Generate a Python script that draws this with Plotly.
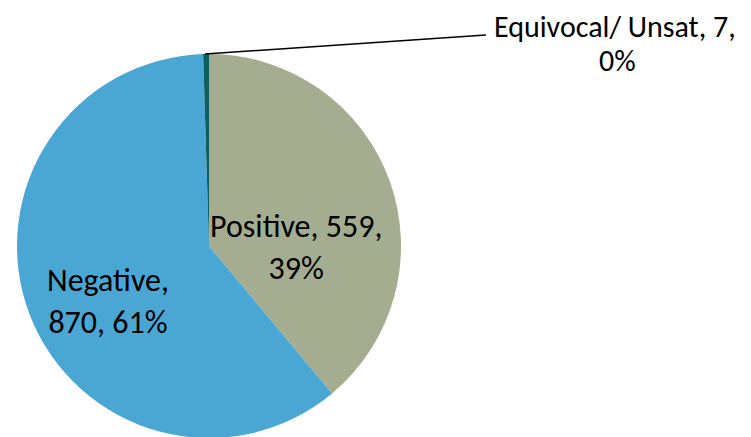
import plotly.graph_objects as go

labels = ["Positive", "Negative", "Equivocal/ Unsat"]
values = [559, 870, 7]
colors = ["#A4AD8F", "#4AA6D3", "#0E5F5F"]

W, H = 751, 437
total = sum(values)
pcts = [round(v / total * 100) for v in values]

fig = go.Figure()
fig.add_trace(go.Pie(
    labels=labels, values=values, sort=False, direction="clockwise", rotation=0,
    marker=dict(colors=colors, line=dict(width=0)),
    textinfo="none", hoverinfo="label+value+percent", showlegend=False,
    domain=dict(x=[9 / W, 393 / W], y=[7 / H, 391 / H]),
))

def px(x, y):
    return x / W, 1 - y / H

ann = [
    (f"{labels[0]}, {values[0]},<br>{pcts[0]}%", 288, 239, 32),
    (f"{labels[1]},<br>{values[1]}, {pcts[1]}%", 100, 293, 32),
    (f"{labels[2]}, {values[2]},", 607, 19, 30),
    (f"{pcts[2]}%", 609, 53, 30),
]
for t, x, y, s in ann:
    ax, ay = px(x, y)
    fig.add_annotation(x=ax, y=ay, xref="paper", yref="paper", text=t, showarrow=False,
                       font=dict(family="Carlito, Lato, sans-serif", size=s, color="black"),
                       align="center", xanchor="center", yanchor="middle")

x0, y0 = px(197, 46)
x1, y1 = px(478, 27)
fig.add_shape(type="line", xref="paper", yref="paper", x0=x0, y0=y0, x1=x1, y1=y1,
              line=dict(color="black", width=1.5))

fig.update_layout(width=W, height=H, margin=dict(l=0, r=0, t=0, b=0),
                  paper_bgcolor="white", plot_bgcolor="white")
fig.write_html("out.html")
